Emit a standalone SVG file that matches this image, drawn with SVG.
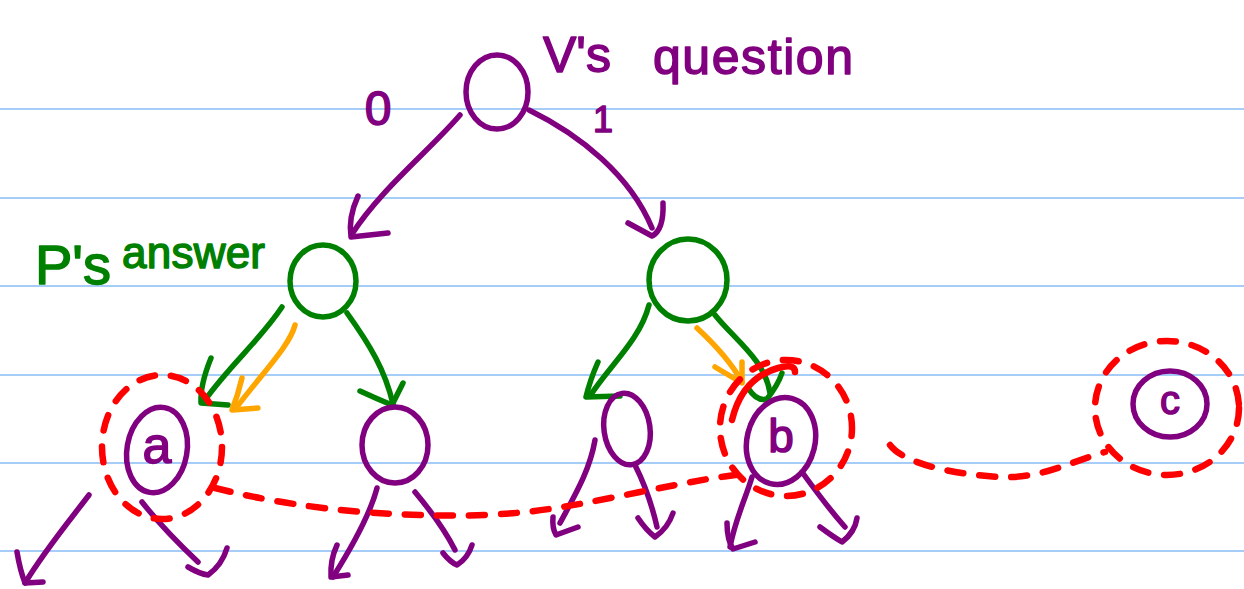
<svg xmlns="http://www.w3.org/2000/svg" width="1244" height="589" viewBox="0 0 1244 589">
<style>
.rule{stroke:#a6cdf7;stroke-width:2}
.p,.g,.o,.r{fill:none;stroke-linecap:round;stroke-linejoin:round}
.p{stroke:#800080;stroke-width:5.5}
.g{stroke:#008000;stroke-width:5.5}
.o{stroke:#ffa500;stroke-width:5.5}
.r{stroke:#ff0000;stroke-width:6.5}
.rd{stroke-dasharray:16 16}
.tp{fill:#800080;stroke:#800080;stroke-width:1.5;stroke-linejoin:round;font-family:"Liberation Sans",Arial,sans-serif}
.tg{fill:#008000;stroke:#008000;stroke-width:1.5;stroke-linejoin:round;font-family:"Liberation Sans",Arial,sans-serif}
</style>
<rect width="1244" height="589" fill="#ffffff"/>
<g id="ruling">
<line class="rule" x1="0" y1="109" x2="1244" y2="109"/>
<line class="rule" x1="0" y1="198" x2="1244" y2="198"/>
<line class="rule" x1="0" y1="286" x2="1244" y2="286"/>
<line class="rule" x1="0" y1="375" x2="1244" y2="375"/>
<line class="rule" x1="0" y1="463" x2="1244" y2="463"/>
<line class="rule" x1="0" y1="551" x2="1244" y2="551"/>
</g>
<g id="labels">
<text class="tp" font-size="50"><tspan x="543" y="72">V's</tspan><tspan x="653" y="74" textLength="200" lengthAdjust="spacing">question</tspan></text>
<text class="tp" x="378" y="125" font-size="48" text-anchor="middle">0</text>
<text class="tp" x="603" y="132" font-size="36" text-anchor="middle">1</text>
<text class="tg"><tspan x="35" y="284" font-size="56">P's</tspan><tspan x="122" y="268" font-size="44" textLength="143" lengthAdjust="spacing">answer</tspan></text>
</g>
<g id="connectors">
<path class="p" d="M460 115 C430 150 380 190 352 234"/>
<path class="p" d="M358 196 Q348 218 351 237 L388 233"/>
<path class="p" d="M529 110 C580 135 630 175 652 228"/>
<path class="p" d="M663 203 Q664 230 652 236 L628 223"/>
<path class="g" d="M282 307 C260 340 230 365 205 400"/>
<path class="g" d="M211 358 Q200 385 201 403 L228 405"/>
<path class="o" d="M295 325 C290 345 265 370 236 408"/>
<path class="o" d="M242 378 Q238 395 232 410 L258 408"/>
<path class="g" d="M347 313 C370 345 385 370 393 404"/>
<path class="g" d="M360 391 Q375 398 392 405 L403 383"/>
<path class="g" d="M649 305 C640 340 610 365 590 396"/>
<path class="g" d="M598 362 Q590 380 586 397 L620 396"/>
<path class="g" d="M715 315 C735 340 765 360 770 393"/>
<path class="g" d="M748 388 Q757 402 767 399 Q778 385 782 373"/>
<path class="o" d="M697 328 C710 340 730 360 742 382"/>
<path class="o" d="M742 362 Q742 375 742 383 L715 367"/>
<path class="p" d="M89 495 C70 520 45 550 25 583"/>
<path class="p" d="M17 552 Q20 570 25 583 L43 582"/>
<path class="p" d="M142 502 C160 525 180 545 198 562"/>
<path class="p" d="M188 567 Q200 574 208 575 Q222 565 227 548"/>
<path class="p" d="M377 488 C370 515 350 550 333 577"/>
<path class="p" d="M337 545 Q330 560 331 577 L348 575"/>
<path class="p" d="M415 492 C430 510 445 530 455 550"/>
<path class="p" d="M443 553 Q450 562 457 565 Q468 558 472 545"/>
<path class="p" d="M595 440 C590 470 575 495 560 523"/>
<path class="p" d="M553 517 Q552 528 556 535 L578 527"/>
<path class="p" d="M635 465 C645 485 652 505 657 527"/>
<path class="p" d="M638 518 Q646 530 655 537 Q668 528 673 513"/>
<path class="p" d="M752 477 C745 500 735 520 730 547"/>
<path class="p" d="M727 523 Q727 540 733 549 L755 542"/>
<path class="p" d="M802 472 C815 490 830 510 845 527"/>
<path class="p" d="M820 527 Q832 536 842 542 Q855 532 857 518"/>
<path class="r rd" d="M215 488 C255 498 320 512 420 515 S560 508 640 492 S715 478 742 474"/>
<path class="r rd" d="M890 445 C905 465 960 475 1000 477 S1070 462 1105 452"/>
</g>
<g id="ring-a"><ellipse class="r rd" cx="162" cy="447" rx="60" ry="72"/></g>
<g id="ring-b">
<ellipse class="r rd" cx="786" cy="428" rx="66" ry="68" stroke-dashoffset="8"/>
<path class="r" d="M732 420 Q742 378 778 368 Q795 363 795 372"/>
</g>
<g id="ring-c"><ellipse class="r rd" cx="1167" cy="408" rx="72" ry="67"/></g>
<g id="node-root"><ellipse class="p" cx="497" cy="92" rx="31" ry="37"/></g>
<g id="node-p-left"><ellipse class="g" cx="323" cy="281" rx="33" ry="36"/></g>
<g id="node-p-right"><ellipse class="g" cx="688" cy="280" rx="39" ry="41"/></g>
<g id="node-a">
<ellipse class="p" cx="157" cy="450" rx="30" ry="43" transform="rotate(10 157 450)"/>
<text class="tp" x="157" y="463" font-size="52" text-anchor="middle">a</text>
</g>
<g id="node-ll2"><ellipse class="p" cx="395" cy="445" rx="33" ry="38"/></g>
<g id="node-rl1"><ellipse class="p" cx="627" cy="429" rx="23" ry="36" transform="rotate(-8 627 429)"/></g>
<g id="node-b">
<ellipse class="p" cx="781" cy="441" rx="34" ry="44" transform="rotate(14 781 441)"/>
<text class="tp" x="781" y="452" font-size="46" text-anchor="middle">b</text>
</g>
<g id="node-c">
<ellipse class="p" cx="1170" cy="404" rx="37" ry="33"/>
<text class="tp" x="1170" y="414" font-size="40" text-anchor="middle">c</text>
</g>
</svg>
